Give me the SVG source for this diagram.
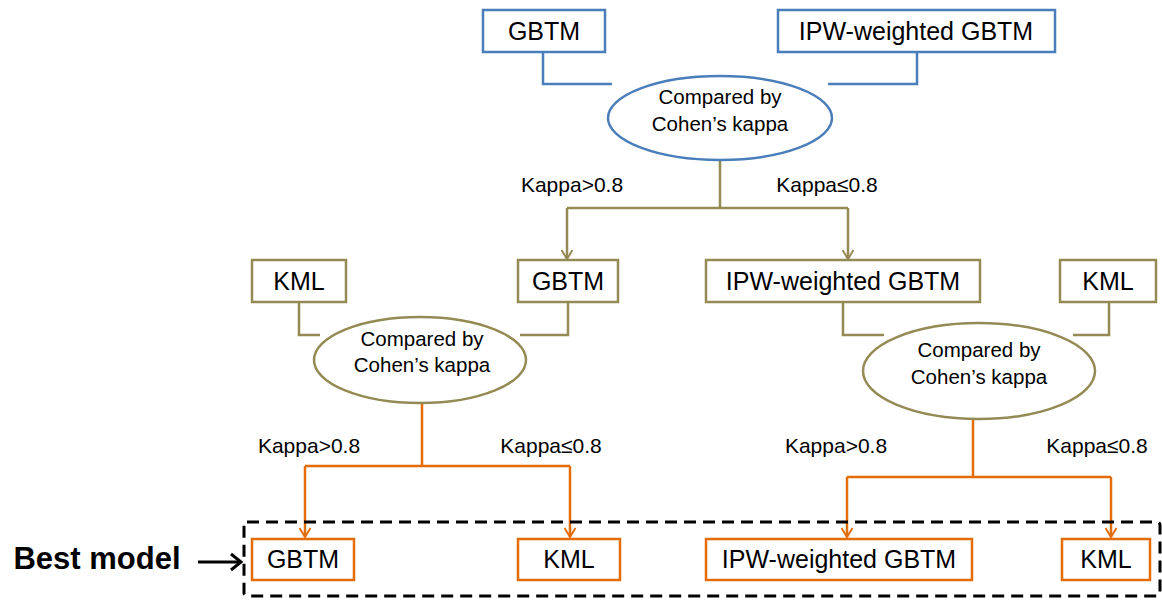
<svg xmlns="http://www.w3.org/2000/svg" width="1162" height="602" viewBox="0 0 1162 602">
<defs>
<style>
.t{font-family:"Liberation Sans",Arial,sans-serif;fill:#000;text-anchor:middle}
.bx{font-size:25px}
.el{font-size:20.5px}
.lb{font-size:21px}
.blue{stroke:#4a7ebb;fill:none;stroke-width:2.5}
.olive{stroke:#948a54;fill:none;stroke-width:2.5}
.orange{stroke:#e46c0a;fill:none;stroke-width:2.5}
.bb{fill:#fff}
</style>
<marker id="ao" viewBox="0 0 12 12" refX="11" refY="6" markerWidth="12" markerHeight="12" markerUnits="userSpaceOnUse" orient="auto"><path d="M2 0.5 L11 6 L2 11.5" fill="none" stroke="#948a54" stroke-width="2"/></marker>
<marker id="ar" viewBox="0 0 12 12" refX="11" refY="6" markerWidth="12" markerHeight="12" markerUnits="userSpaceOnUse" orient="auto"><path d="M2 0.5 L11 6 L2 11.5" fill="none" stroke="#e46c0a" stroke-width="2"/></marker>
</defs>
<rect width="1162" height="602" fill="#fff"/>
<g id="connectors">
<polyline class="blue" points="543,52 543,84 612,84"/>
<polyline class="blue" points="917,52 917,84 828,84"/>
<polyline class="olive" points="720,160 720,208"/>
<polyline class="olive" points="567,208 848,208"/>
<polyline class="olive" points="567,208 567,259" marker-end="url(#ao)"/>
<polyline class="olive" points="848,208 848,259" marker-end="url(#ao)"/>
<polyline class="olive" points="299,302 299,335 320,335"/>
<polyline class="olive" points="568,302 568,335 520,335"/>
<polyline class="olive" points="843,302 843,335 884,335"/>
<polyline class="olive" points="1109,302 1109,335 1073,335"/>
<polyline class="orange" points="422,403 422,466"/>
<polyline class="orange" points="305,466 570,466"/>
<polyline class="orange" points="305,466 305,537" marker-end="url(#ar)"/>
<polyline class="orange" points="570,466 570,537" marker-end="url(#ar)"/>
<polyline class="orange" points="973,418 973,477"/>
<polyline class="orange" points="847,477 1111,477"/>
<polyline class="orange" points="847,477 847,537" marker-end="url(#ar)"/>
<polyline class="orange" points="1111,477 1111,537" marker-end="url(#ar)"/>
<text class="t lb" x="572" y="192">Kappa&gt;0.8</text>
<text class="t lb" x="827" y="192">Kappa≤0.8</text>
<text class="t lb" x="309" y="453">Kappa&gt;0.8</text>
<text class="t lb" x="551" y="453">Kappa≤0.8</text>
<text class="t lb" x="836" y="453">Kappa&gt;0.8</text>
<text class="t lb" x="1097" y="453">Kappa≤0.8</text>
</g>
<g id="top-gbtm"><rect class="blue bb" x="483" y="10" width="122" height="42"/><text class="t bx" x="544" y="40">GBTM</text></g>
<g id="top-ipw"><rect class="blue bb" x="778" y="10" width="277" height="42"/><text class="t bx" x="916" y="40">IPW-weighted GBTM</text></g>
<g id="top-compare"><ellipse class="blue bb" cx="720" cy="118" rx="112" ry="42"/><text class="t el" x="720" y="104">Compared by</text><text class="t el" x="720" y="131">Cohen’s kappa</text></g>
<g id="mid-kml-left"><rect class="olive bb" x="252" y="260" width="94" height="42"/><text class="t bx" x="299" y="290">KML</text></g>
<g id="mid-gbtm"><rect class="olive bb" x="518" y="260" width="100" height="42"/><text class="t bx" x="568" y="290">GBTM</text></g>
<g id="mid-ipw"><rect class="olive bb" x="706" y="260" width="274" height="42"/><text class="t bx" x="843" y="290">IPW-weighted GBTM</text></g>
<g id="mid-kml-right"><rect class="olive bb" x="1060" y="260" width="96" height="42"/><text class="t bx" x="1108" y="290">KML</text></g>
<g id="left-compare"><ellipse class="olive bb" cx="420" cy="360" rx="106" ry="43"/><text class="t el" x="422" y="346">Compared by</text><text class="t el" x="422" y="372">Cohen’s kappa</text></g>
<g id="right-compare"><ellipse class="olive bb" cx="979" cy="371" rx="116" ry="48"/><text class="t el" x="979" y="357">Compared by</text><text class="t el" x="979" y="384">Cohen’s kappa</text></g>
<g id="best-box"><rect x="244" y="522" width="916" height="74" rx="3" fill="none" stroke="#000" stroke-width="3" stroke-dasharray="12,7"/></g>
<g id="bot-gbtm"><rect class="orange bb" x="252" y="539" width="102" height="41"/><text class="t bx" x="303" y="568">GBTM</text></g>
<g id="bot-kml-left"><rect class="orange bb" x="518" y="539" width="102" height="41"/><text class="t bx" x="569" y="568">KML</text></g>
<g id="bot-ipw"><rect class="orange bb" x="706" y="539" width="266" height="41"/><text class="t bx" x="839" y="568">IPW-weighted GBTM</text></g>
<g id="bot-kml-right"><rect class="orange bb" x="1062" y="539" width="88" height="41"/><text class="t bx" x="1106" y="568">KML</text></g>
<g id="best-label"><text x="97" y="569" font-family="Liberation Sans,Arial,sans-serif" font-weight="bold" font-size="31" text-anchor="middle">Best model</text>
<line x1="198" y1="562" x2="240" y2="562" stroke="#000" stroke-width="3"/><path d="M231 554 L241 562 L231 570" fill="none" stroke="#000" stroke-width="3"/></g>
</svg>
